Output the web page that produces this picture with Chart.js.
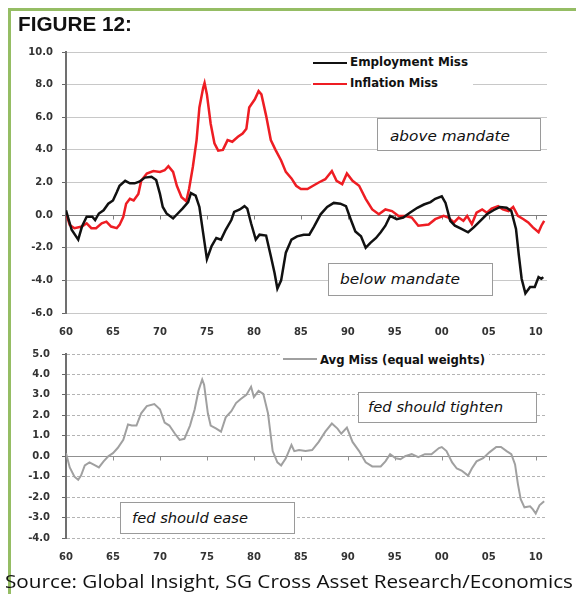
<!DOCTYPE html>
<html>
<head>
<meta charset="utf-8">
<script src="https://cdn.jsdelivr.net/npm/chart.js@4.4.1/dist/chart.umd.min.js"></script>
<style>
html,body{margin:0;padding:0;background:#fff;}
body{width:576px;height:594px;position:relative;overflow:hidden;font-family:"Liberation Sans",Arial,sans-serif;}
.frame{position:absolute;background:#95bd64;}
.txt{position:absolute;white-space:nowrap;transform-origin:0 50%;color:#111;line-height:1.15;}
canvas{position:absolute;left:0;}
.box{position:absolute;border:1px solid #9a9a9a;background:#fff;box-sizing:border-box;}
.legbg{position:absolute;background:#fff;}
.legline{position:absolute;height:2px;}
#title{font-weight:bold;font-size:21px;}
#source{font-family:"Open Sans",sans-serif;font-size:19px;}
.leg{font-family:"DejaVu Sans",sans-serif;font-weight:bold;font-size:12px;}
.ann{font-family:"DejaVu Sans",sans-serif;font-style:italic;font-size:14px;}
</style>
</head>
<body>
<div class="frame" style="left:8px;top:8px;width:568px;height:3px;"></div>
<div class="frame" style="left:8px;top:8px;width:3px;height:586px;"></div>

<canvas id="topChart" width="576" height="336" style="top:0px;"></canvas>
<canvas id="bottomChart" width="576" height="236" style="top:336px;"></canvas>

<div class="txt" id="title">FIGURE 12:</div>
<div class="txt" id="source">Source: Global Insight, SG Cross Asset Research/Economics</div>

<div class="legbg" style="left:311px;top:54px;width:162px;height:40px;"></div>
<div class="legline" style="left:313px;top:62px;width:34px;background:#111;"></div>
<div class="legline" style="left:313px;top:83px;width:34px;background:#ee1d23;"></div>
<div class="txt leg" id="legEmp">Employment Miss</div>
<div class="txt leg" id="legInf">Inflation Miss</div>

<div class="legbg" style="left:281px;top:352px;width:208px;height:19px;"></div>
<div class="legline" style="left:283px;top:358px;width:34px;background:#a0a0a0;"></div>
<div class="txt leg" id="legAvg">Avg Miss (equal weights)</div>

<div class="box" style="left:377px;top:118px;width:164px;height:33px;"></div>
<div class="txt ann" id="annAbove">above mandate</div>
<div class="box" style="left:328px;top:263px;width:165px;height:33px;"></div>
<div class="txt ann" id="annBelow">below mandate</div>
<div class="box" style="left:358px;top:392px;width:179px;height:31px;"></div>
<div class="txt ann" id="annTighten">fed should tighten</div>
<div class="box" style="left:120px;top:502px;width:175px;height:32px;"></div>
<div class="txt ann" id="annEase">fed should ease</div>

<script>
// ---- data (years, values) ----
const xTickYears  = [1960,1965,1970,1975,1980,1985,1990,1995,2000,2005,2010];
const xTickLabels = ['60','65','70','75','80','85','90','95','00','05','10'];

const employmentYears = [
  1960.0,1960.6,1961.3,1961.7,1962.2,1962.8,1963.1,1963.5,1964.0,1964.5,
  1965.0,1965.4,1965.7,1966.3,1966.8,1967.3,1967.8,1968.4,1969.1,1969.6,
  1970.0,1970.3,1970.7,1971.4,1971.9,1972.4,1973.0,1973.3,1973.8,1974.2,
  1974.6,1975.0,1975.5,1976.0,1976.5,1977.0,1977.6,1977.9,1978.5,1979.0,
  1979.3,1979.7,1980.2,1980.6,1981.3,1981.8,1982.2,1982.5,1982.9,1983.4,
  1984.0,1984.6,1985.3,1985.9,1986.4,1987.1,1987.8,1988.5,1989.2,1989.8,
  1990.3,1990.8,1991.4,1991.9,1992.4,1993.0,1993.5,1994.0,1994.5,1995.2,
  1995.9,1996.6,1997.4,1998.1,1998.8,1999.3,2000.0,2000.4,2000.9,2001.4,
  2002.1,2002.8,2003.4,2004.1,2004.8,2005.5,2006.2,2006.9,2007.4,2007.9,
  2008.2,2008.5,2008.9,2009.4,2009.9,2010.3,2010.6,2010.8];
const employmentMiss = [
  0.3,-0.9,-1.5,-0.7,-0.1,-0.1,-0.3,0.1,0.3,0.7,
  0.9,1.4,1.8,2.1,1.95,1.95,2.05,2.3,2.35,2.15,
  1.3,0.5,0.1,-0.2,0.1,0.4,0.8,1.35,1.2,0.5,
  -1.1,-2.7,-1.9,-1.4,-1.5,-0.9,-0.3,0.2,0.35,0.55,
  0.4,-0.5,-1.5,-1.2,-1.25,-2.5,-3.55,-4.5,-4.0,-2.3,
  -1.5,-1.3,-1.2,-1.2,-0.7,0.05,0.5,0.75,0.7,0.55,
  -0.25,-1.0,-1.3,-2.0,-1.7,-1.4,-1.05,-0.65,-0.05,-0.25,
  -0.15,0.15,0.45,0.65,0.8,1.0,1.15,0.75,-0.35,-0.65,
  -0.85,-1.05,-0.75,-0.35,0.05,0.3,0.5,0.45,0.25,-0.85,
  -2.45,-3.9,-4.8,-4.4,-4.4,-3.8,-3.9,-3.8];

const inflationYears = [
  1960.0,1960.4,1960.9,1961.7,1962.2,1962.7,1963.2,1963.8,1964.3,1964.8,
  1965.4,1965.7,1966.1,1966.4,1966.8,1967.2,1967.7,1968.0,1968.6,1969.3,
  1970.0,1970.5,1970.9,1971.4,1971.8,1972.3,1972.8,1973.1,1973.5,1973.9,
  1974.2,1974.6,1974.75,1975.0,1975.4,1975.8,1976.2,1976.7,1977.2,1977.7,
  1978.3,1978.8,1979.2,1979.5,1980.1,1980.5,1980.8,1981.3,1981.8,1982.3,
  1982.9,1983.4,1984.0,1984.5,1985.0,1985.7,1986.3,1986.9,1987.6,1988.3,
  1988.8,1989.4,1989.9,1990.5,1991.2,1991.9,1992.6,1993.3,1994.0,1994.7,
  1995.4,1996.1,1996.8,1997.5,1998.6,1999.3,2000.2,2000.7,2001.3,2001.8,
  2002.3,2002.7,2003.2,2003.7,2004.3,2004.8,2005.3,2006.0,2006.5,2007.1,
  2007.6,2008.1,2008.7,2009.2,2009.7,2010.3,2010.6,2010.9];
const inflationMiss = [
  0.1,-0.6,-0.8,-0.7,-0.5,-0.8,-0.8,-0.5,-0.4,-0.7,
  -0.8,-0.6,-0.1,0.7,1.0,0.9,1.3,2.1,2.55,2.7,
  2.65,2.75,3.0,2.65,1.8,1.1,0.85,1.6,2.95,4.6,
  6.6,7.8,8.1,7.4,5.6,4.4,3.95,4.0,4.6,4.5,
  4.8,5.0,5.3,6.6,7.1,7.6,7.4,6.1,4.6,4.0,
  3.35,2.65,2.25,1.8,1.6,1.6,1.8,2.0,2.2,2.7,
  2.1,1.9,2.55,2.1,1.8,1.0,0.35,0.05,0.35,0.25,
  -0.05,-0.05,-0.15,-0.65,-0.58,-0.25,-0.05,-0.15,-0.45,-0.15,
  -0.35,-0.05,-0.55,0.15,0.35,0.15,0.4,0.55,0.35,0.25,
  0.5,-0.05,-0.25,-0.45,-0.75,-1.05,-0.65,-0.35];

const avgYears = [
  1960.0,1960.4,1960.9,1961.3,1961.6,1962.0,1962.5,1963.1,1963.5,1964.0,
  1964.5,1965.0,1965.5,1966.1,1966.6,1967.0,1967.5,1968.0,1968.6,1969.4,
  1970.0,1970.5,1971.0,1971.6,1972.1,1972.6,1973.2,1973.7,1974.1,1974.5,
  1974.7,1975.1,1975.4,1976.0,1976.5,1977.0,1977.6,1978.1,1978.6,1979.2,
  1979.7,1980.0,1980.5,1981.0,1981.5,1982.0,1982.5,1982.9,1983.4,1984.0,
  1984.3,1984.8,1985.5,1986.2,1986.9,1987.6,1988.3,1988.9,1989.3,1989.9,
  1990.5,1991.2,1991.9,1992.6,1993.5,1994.0,1994.5,1995.1,1995.6,1996.1,
  1996.8,1997.5,1998.2,1998.9,1999.7,2000.0,2000.5,2001.1,2001.6,2002.1,
  2002.8,2003.2,2003.7,2004.4,2005.1,2005.8,2006.3,2006.9,2007.4,2007.8,
  2008.1,2008.4,2008.8,2009.4,2009.7,2010.0,2010.4,2010.9];
const avgMiss = [
  0.15,-0.55,-1.0,-1.15,-0.95,-0.45,-0.3,-0.45,-0.55,-0.25,
  0.0,0.15,0.4,0.8,1.55,1.5,1.5,2.1,2.45,2.55,
  2.3,1.65,1.5,1.1,0.8,0.85,1.5,2.3,3.2,3.75,
  3.5,2.1,1.5,1.35,1.2,1.9,2.2,2.6,2.8,3.0,
  3.4,2.9,3.2,3.05,2.1,0.25,-0.3,-0.45,-0.1,0.55,
  0.25,0.3,0.25,0.3,0.7,1.2,1.6,1.35,1.1,1.4,
  0.7,0.25,-0.3,-0.5,-0.5,-0.25,0.1,-0.1,-0.15,0.0,
  0.1,-0.05,0.1,0.1,0.4,0.45,0.25,-0.3,-0.6,-0.7,
  -0.95,-0.6,-0.25,-0.1,0.2,0.45,0.45,0.25,0.1,-0.4,
  -1.35,-2.1,-2.5,-2.45,-2.6,-2.8,-2.4,-2.2];

// ---- helpers ----
const pts = (xs, ys) => xs.map((x, i) => ({x: x, y: ys[i]}));
const tickFont = {family: 'DejaVu Sans', size: 10, weight: 'bold'};

const zeroLine = {
  id: 'zeroLine',
  beforeDatasetsDraw(chart, args, opts) {
    const {ctx, chartArea, scales: {x, y}} = chart;
    const y0 = Math.round(y.getPixelForValue(0)) + 0.5;
    ctx.save();
    ctx.strokeStyle = opts.color;
    ctx.lineWidth = 1;
    ctx.beginPath();
    ctx.moveTo(chartArea.left, y0);
    ctx.lineTo(chartArea.right, y0);
    ctx.stroke();
    xTickYears.forEach(v => {
      if (v === xTickYears[0]) return;
      const px = Math.round(x.getPixelForValue(v)) + 0.5;
      ctx.beginPath();
      ctx.moveTo(px, y0);
      ctx.lineTo(px, y0 + 4);
      ctx.stroke();
    });
    ctx.restore();
  }
};

function xScale(height) {
  return {
    type: 'linear', min: 1960, max: 2011.2,
    afterBuildTicks: s => { s.ticks = xTickYears.map(v => ({value: v})); },
    afterFit: s => { s.height = height; },
    grid: {display: false, drawTicks: false},
    border: {display: false},
    ticks: {
      padding: 13, maxRotation: 0, autoSkip: false, font: tickFont, color: '#333',
      callback: v => xTickLabels[xTickYears.indexOf(v)]
    }
  };
}

function yScale(min, max, step, pad, gridColor, dash) {
  return {
    min: min, max: max,
    afterFit: s => { s.width = 66; },
    ticks: {stepSize: step, padding: pad, font: tickFont, color: '#333',
            callback: v => Number(v).toFixed(1)},
    grid: {color: gridColor, lineWidth: 1, tickLength: 4, tickColor: '#666'},
    border: {display: true, color: '#707070', width: 2, dash: dash}
  };
}

new Chart(document.getElementById('topChart'), {
  type: 'line',
  data: {datasets: [
    {label: 'Employment Miss', data: pts(employmentYears, employmentMiss),
     borderColor: '#111', borderWidth: 2.5, pointRadius: 0, tension: 0},
    {label: 'Inflation Miss', data: pts(inflationYears, inflationMiss),
     borderColor: '#ee1d23', borderWidth: 2.5, pointRadius: 0, tension: 0}
  ]},
  options: {
    responsive: false, animation: false, devicePixelRatio: 1,
    layout: {padding: {left: 0, right: 29, top: 52, bottom: 0}},
    plugins: {legend: {display: false}, tooltip: {enabled: false}, zeroLine: {color: '#808080'}},
    scales: {x: xScale(23), y: yScale(-6, 10, 2, 9, '#c8c8c8', [])}
  },
  plugins: [zeroLine]
});

new Chart(document.getElementById('bottomChart'), {
  type: 'line',
  data: {datasets: [
    {label: 'Avg Miss (equal weights)', data: pts(avgYears, avgMiss),
     borderColor: '#a0a0a0', borderWidth: 2, pointRadius: 0, tension: 0}
  ]},
  options: {
    responsive: false, animation: false, devicePixelRatio: 1,
    layout: {padding: {left: 0, right: 29, top: 9, bottom: 0}},
    plugins: {legend: {display: false}, tooltip: {enabled: false}, zeroLine: {color: '#909090'}},
    scales: {x: xScale(34), y: yScale(-4, 5, 1, 12, '#b4b4b4', [3, 2])}
  },
  plugins: [zeroLine]
});

// ---- place texts (real text, stretched to the reference widths) ----
function fitText(id, left, cy, width) {
  const el = document.getElementById(id);
  el.style.left = left + 'px';
  el.style.top = cy + 'px';
  const w = el.getBoundingClientRect().width;
  el.style.transform = 'translateY(-50%) scaleX(' + (width / w) + ')';
}
fitText('title', 18, 24, 114);
fitText('source', 5, 582, 568);
fitText('legEmp', 350, 63, 118);
fitText('legInf', 350, 84, 88);
fitText('legAvg', 320, 361, 165);
fitText('annAbove', 390, 136, 120);
fitText('annBelow', 340, 279, 120);
fitText('annTighten', 368, 407, 135);
fitText('annEase', 132, 518, 116);
</script>
</body>
</html>
